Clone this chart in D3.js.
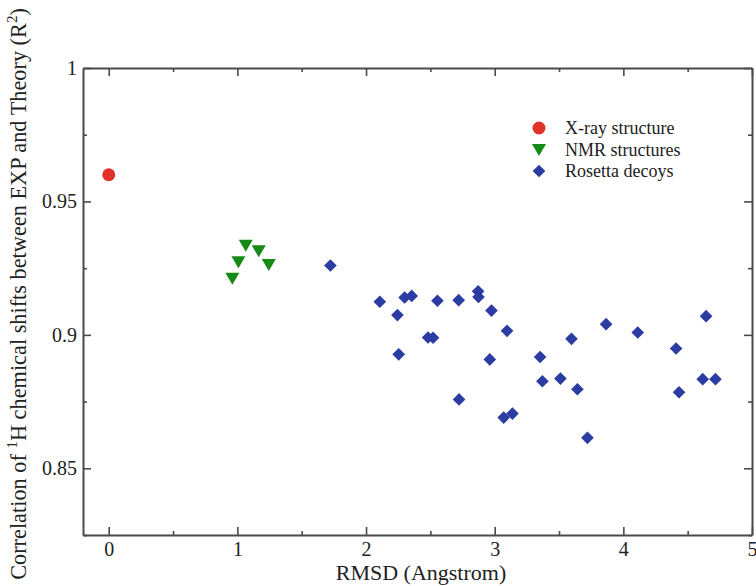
<!DOCTYPE html>
<html>
<head>
<meta charset="utf-8">
<script src="https://cdn.jsdelivr.net/npm/d3@7"></script>
<style>
  html, body { margin: 0; padding: 0; background: #fff; }
  svg { display: block; }
  text { font-family: "Liberation Serif", "Times New Roman", serif; fill: #222; }
</style>
</head>
<body>
<svg id="chart" width="756" height="586"></svg>
<script>
// ---- data ----
const xrayRMSD = [0.0];
const xrayR2 = [0.960];

const nmrRMSD = [1.065, 1.166, 1.008, 1.244, 0.961];
const nmrR2   = [0.9334, 0.9313, 0.9272, 0.9262, 0.9210];

const rosettaRMSD = [1.723, 2.107, 2.244, 2.300, 2.355, 2.254, 2.482, 2.521, 2.555, 2.720,
                     2.723, 2.871, 2.874, 2.975, 3.096, 2.962, 3.070, 3.138, 3.353, 3.371,
                     3.511, 3.597, 3.643, 3.721, 3.866, 4.112, 4.410, 4.433, 4.643, 4.617, 4.716];
const rosettaR2   = [0.9260, 0.9124, 0.9074, 0.9140, 0.9146, 0.8927, 0.8990, 0.8989, 0.9128, 0.9130,
                     0.8758, 0.9163, 0.9142, 0.9091, 0.9015, 0.8908, 0.8690, 0.8705, 0.8917, 0.8826,
                     0.8836, 0.8985, 0.8796, 0.8614, 0.9040, 0.9009, 0.8949, 0.8785, 0.9070, 0.8834, 0.8834];

const xTicks = [0, 1, 2, 3, 4, 5];
const xMinorTicks = [0.5, 1.5, 2.5, 3.5, 4.5];
const yTicks = [0.85, 0.9, 0.95, 1];
const yTickLabels = ["0.85", "0.9", "0.95", "1"];
const yMinorTicks = [0.825, 0.875, 0.925, 0.975];

const legendLabels = ["X-ray structure", "NMR structures", "Rosetta decoys"];

(function () {
// ---- layout ----
const svg = d3.select("#chart");
const pL = 83, pR = 752, pT = 68, pB = 535;
const x = d3.scaleLinear().domain([-0.2, 5]).range([pL, pR]);
const y = d3.scaleLinear().domain([0.825, 1.0]).range([pB, pT]);

const axisColor = "#4a4a4a";
const red = "#e0312b", green = "#168a16", blue = "#2b3ca3";

function styleAxis(g) {
  g.selectAll("path.domain").attr("stroke", axisColor).attr("stroke-width", 2);
  g.selectAll(".tick line").attr("stroke", axisColor).attr("stroke-width", 1.6);
  g.selectAll(".tick text").style("font-family", '"Liberation Serif", serif').attr("fill", "#222");
}

// bottom axis
const gB = svg.append("g").attr("transform", `translate(0,${pB})`)
  .call(d3.axisBottom(x).tickValues(xTicks).tickFormat(d3.format("d"))
    .tickSizeInner(-8).tickSizeOuter(0).tickPadding(7));
gB.selectAll(".tick text").attr("font-size", 20);
styleAxis(gB);
const gBm = svg.append("g").attr("transform", `translate(0,${pB})`)
  .call(d3.axisBottom(x).tickValues(xMinorTicks).tickFormat("").tickSizeInner(-4).tickSizeOuter(0));
gBm.select("path.domain").remove();
styleAxis(gBm);

// top axis
const gT = svg.append("g").attr("transform", `translate(0,${pT})`)
  .call(d3.axisTop(x).tickValues(xTicks).tickFormat("").tickSizeInner(-8).tickSizeOuter(0));
styleAxis(gT);
const gTm = svg.append("g").attr("transform", `translate(0,${pT})`)
  .call(d3.axisTop(x).tickValues(xMinorTicks).tickFormat("").tickSizeInner(-4).tickSizeOuter(0));
gTm.select("path.domain").remove();
styleAxis(gTm);

// left axis
const gL = svg.append("g").attr("transform", `translate(${pL},0)`)
  .call(d3.axisLeft(y).tickValues(yTicks).tickFormat((d, i) => yTickLabels[i])
    .tickSizeInner(-8).tickSizeOuter(0).tickPadding(6));
gL.selectAll(".tick text").attr("font-size", 20);
styleAxis(gL);
const gLm = svg.append("g").attr("transform", `translate(${pL},0)`)
  .call(d3.axisLeft(y).tickValues(yMinorTicks).tickFormat("").tickSizeInner(-4).tickSizeOuter(0));
gLm.select("path.domain").remove();
styleAxis(gLm);

// right axis
const gR = svg.append("g").attr("transform", `translate(${pR},0)`)
  .call(d3.axisRight(y).tickValues(yTicks).tickFormat("").tickSizeInner(-8).tickSizeOuter(0));
styleAxis(gR);
const gRm = svg.append("g").attr("transform", `translate(${pR},0)`)
  .call(d3.axisRight(y).tickValues(yMinorTicks).tickFormat("").tickSizeInner(-4).tickSizeOuter(0));
gRm.select("path.domain").remove();
styleAxis(gRm);

// axis titles
svg.append("text")
  .attr("x", 421).attr("y", 580)
  .attr("text-anchor", "middle").attr("font-size", 22)
  .text("RMSD (Angstrom)");

const yTitle = svg.append("text")
  .attr("transform", `translate(26,294) rotate(-90)`)
  .attr("text-anchor", "middle").attr("font-size", 22.3);
yTitle.append("tspan").text("Correlation of ");
yTitle.append("tspan").attr("font-size", 15).attr("dy", -9).text("1");
yTitle.append("tspan").attr("dy", 9).text("H chemical shifts between EXP and Theory (R");
yTitle.append("tspan").attr("font-size", 15).attr("dy", -9).text("2");
yTitle.append("tspan").attr("dy", 9).text(")");

// ---- marks ----
const diamond = d3.symbol().type(d3.symbolSquare).size(80)();
const tri = "M-7,-6L7,-6L0,6Z";

svg.append("g").selectAll("circle").data(xrayRMSD.map((d, i) => [d, xrayR2[i]]))
  .join("circle")
  .attr("cx", d => x(d[0])).attr("cy", d => y(d[1])).attr("r", 6.5)
  .attr("fill", red);

svg.append("g").selectAll("path").data(nmrRMSD.map((d, i) => [d, nmrR2[i]]))
  .join("path")
  .attr("d", tri)
  .attr("transform", d => `translate(${x(d[0])},${y(d[1])})`)
  .attr("fill", green);

svg.append("g").selectAll("path").data(rosettaRMSD.map((d, i) => [d, rosettaR2[i]]))
  .join("path")
  .attr("d", diamond)
  .attr("transform", d => `translate(${x(d[0])},${y(d[1])}) rotate(45)`)
  .attr("fill", blue);

// ---- legend ----
const legX = 539, legY = [128, 150, 171];
const leg = svg.append("g");
leg.append("circle").attr("cx", legX).attr("cy", legY[0]).attr("r", 6.5).attr("fill", red);
leg.append("path").attr("d", tri).attr("transform", `translate(${legX},${legY[1]})`).attr("fill", green);
leg.append("path").attr("d", diamond).attr("transform", `translate(${legX},${legY[2]}) rotate(45)`).attr("fill", blue);
leg.selectAll("text").data(legendLabels).join("text")
  .attr("x", 565).attr("y", (d, i) => legY[i] + 6)
  .attr("font-size", 18)
  .text(d => d);
})();
</script>
</body>
</html>
